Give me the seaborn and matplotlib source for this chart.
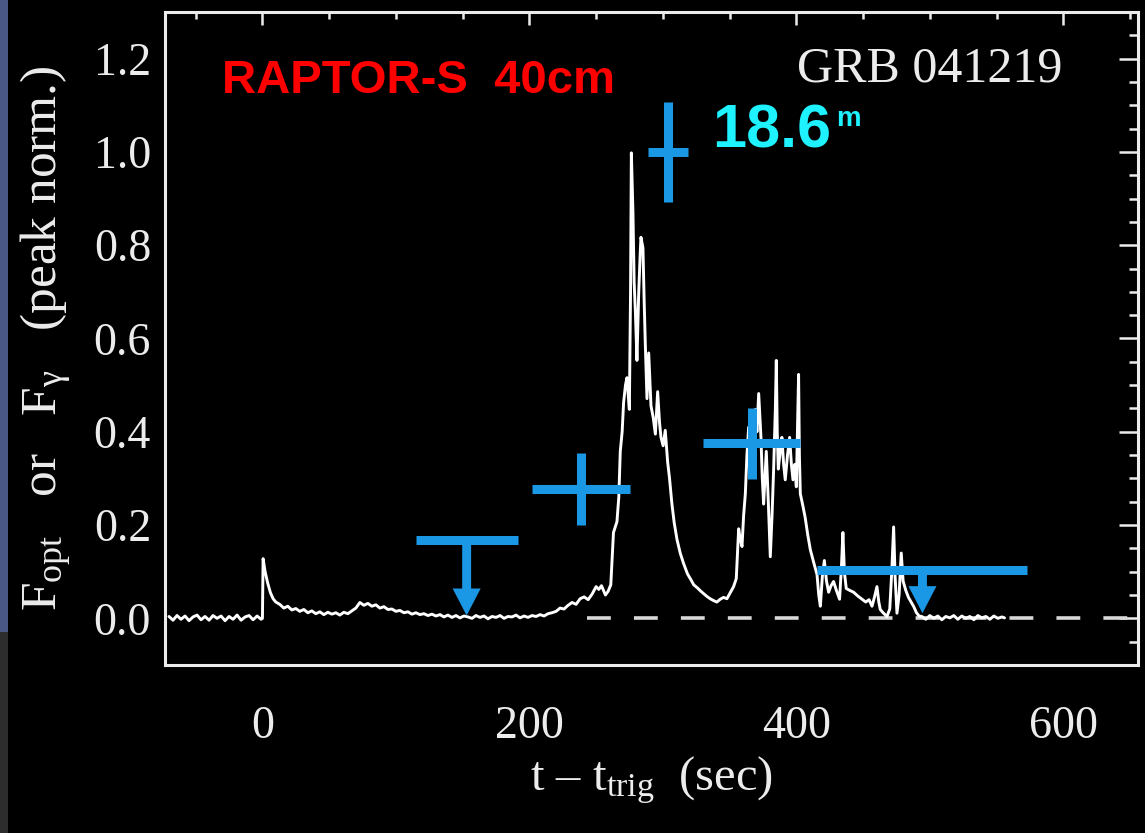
import numpy as np
import pandas as pd
import matplotlib
matplotlib.use("Agg")
import matplotlib.pyplot as plt
import seaborn as sns
from matplotlib.patches import Rectangle
from matplotlib.ticker import MultipleLocator, FormatStrFormatter

# gamma-ray light curve (t in sec, flux peak-normalised)
t_pre = [-70, -67, -64, -61, -58, -55, -52, -49, -46, -43, -40, -37,
         -34, -31, -28, -25, -22, -19, -16, -13, -10, -7, -4, -1]
f_pre = [0.004, -0.004, 0.006, -0.002, 0.005, -0.005, 0.003, 0.007, -0.003, 0.004, -0.004, 0.006,
         0.000, 0.005, -0.005, 0.004, -0.002, 0.007, -0.004, 0.003, 0.006, -0.003, 0.005, -0.002]

t_spike = [0, 0.5, 2, 4, 6, 8, 10, 13, 16, 19, 22, 25, 28, 31, 34, 37, 40, 43, 46,
           49, 52, 55, 58, 61, 64, 67, 70, 73, 76, 79, 82, 85, 88, 91, 94, 97, 100]
f_spike = [0.000, 0.128, 0.100, 0.075, 0.055, 0.042, 0.035, 0.030, 0.022, 0.026, 0.018, 0.021, 0.015, 0.019, 0.012, 0.016, 0.010, 0.014, 0.008,
           0.013, 0.009, 0.012, 0.007, 0.013, 0.010, 0.016, 0.022, 0.034, 0.028, 0.032, 0.026, 0.029, 0.022, 0.025, 0.019, 0.020, 0.015]

t_quiet = [103, 106, 109, 112, 115, 118, 121, 124, 127, 130, 133, 136, 139, 142, 145, 148, 151, 154, 157,
           160, 163, 166, 169, 172, 175, 178, 181, 184, 187, 190, 193, 196, 199, 202, 205, 208, 211, 214]
f_quiet = [0.017, 0.012, 0.014, 0.009, 0.012, 0.008, 0.010, 0.006, 0.009, 0.005, 0.008, 0.003, 0.007, 0.002, 0.006, 0.001, 0.005, 0.003, 0.000,
           0.006, 0.002, 0.005, -0.001, 0.004, 0.002, 0.006, 0.000, 0.004, 0.003, 0.007, 0.001, 0.005, 0.002, 0.006, 0.004, 0.008, 0.005, 0.010]

t_burst = [217, 220, 223, 226, 229, 232, 235, 238, 241, 244,
           247, 250, 252, 254, 257, 259, 261, 263, 265.6, 267,
           268.1, 269.5, 270.6, 272, 273.1, 274.9, 275.8, 276.4, 277.0, 277.6,
           278.5, 279.4, 280.6, 281.9, 283.0, 283.6, 285.1, 286.0, 286.9, 288.1,
           289.4, 291.1, 292.8, 294.4, 296.1, 297.5, 298.6, 300.2, 301.8, 303.6,
           305.0, 306.8, 308.5, 310.6, 313.0, 315.6, 318.5, 321.0, 323.1, 326.0,
           328.5, 330.6, 333.0, 335.5, 338.0, 340.5, 343.0, 345.5, 348.0, 350.5,
           353.0, 355.0, 356.8, 358.0, 359.3, 360.5, 361.8, 363.0, 364.3, 365.5,
           366.8, 368.0, 369.3, 370.5, 371.8, 373.5, 374.5, 375.5, 376.5, 377.5,
           379.0, 380.5, 381.8, 383.0, 384.3, 385.0, 385.7, 386.5, 388.0, 389.2,
           390.5, 391.7, 393.4, 395.0, 396.3, 397.5, 398.8, 400.0, 401.0, 401.7,
           402.3, 403.0, 405.0, 406.7, 408.5, 410.5, 413.0, 415.5, 416.8, 418.0,
           419.5, 421.0, 422.6, 424.2, 426.0, 427.9, 430.0, 432.4, 433.8, 434.9,
           436.0, 437.4, 440.0, 442.9, 446.0, 449.2, 452.0, 454.5, 456.7, 458.5,
           460.4, 461.8, 462.9, 465.0, 467.9, 470.0, 471.5, 472.9, 474.0, 475.4,
           477.0, 478.6, 480.0, 482.0, 484.0, 486.0, 488.0, 490.0, 492.0]
f_burst = [0.012, 0.015, 0.022, 0.020, 0.028, 0.034, 0.030, 0.042, 0.046, 0.040,
           0.052, 0.068, 0.062, 0.070, 0.050, 0.058, 0.072, 0.184, 0.207, 0.260,
           0.358, 0.400, 0.463, 0.500, 0.516, 0.448, 0.700, 0.998, 0.930, 0.870,
           0.720, 0.659, 0.553, 0.697, 0.780, 0.817, 0.794, 0.680, 0.584, 0.471,
           0.569, 0.456, 0.430, 0.395, 0.486, 0.420, 0.388, 0.370, 0.403, 0.335,
           0.300, 0.245, 0.205, 0.169, 0.140, 0.117, 0.095, 0.083, 0.072, 0.065,
           0.058, 0.053, 0.047, 0.042, 0.038, 0.035, 0.041, 0.045, 0.042, 0.055,
           0.068, 0.085, 0.192, 0.170, 0.154, 0.220, 0.267, 0.350, 0.410, 0.360,
           0.313, 0.400, 0.448, 0.400, 0.482, 0.388, 0.300, 0.245, 0.300, 0.358,
           0.250, 0.132, 0.220, 0.320, 0.450, 0.553, 0.400, 0.320, 0.360, 0.388,
           0.330, 0.297, 0.350, 0.388, 0.330, 0.297, 0.330, 0.282, 0.420, 0.523,
           0.350, 0.267, 0.240, 0.215, 0.180, 0.147, 0.120, 0.094, 0.050, 0.026,
           0.090, 0.124, 0.080, 0.056, 0.070, 0.079, 0.060, 0.041, 0.110, 0.184,
           0.100, 0.064, 0.060, 0.056, 0.048, 0.041, 0.035, 0.040, 0.026, 0.045,
           0.068, 0.035, 0.019, 0.012, 0.004, 0.020, 0.100, 0.196, 0.090, 0.011,
           0.050, 0.140, 0.080, 0.060, 0.045, 0.035, 0.025, 0.012, 0.005]

t_tail = [494, 497, 500, 503, 506, 509, 512, 515, 518, 521, 524,
          527, 530, 533, 536, 539, 542, 545, 548, 551, 554, 556]
f_tail = [0.004, -0.002, 0.006, 0.000, 0.005, -0.003, 0.004, 0.001, 0.006, -0.002, 0.005,
          0.000, 0.004, -0.003, 0.006, 0.001, 0.004, -0.002, 0.005, 0.000, 0.003, 0.001]

# RAPTOR-S optical detections
det_t = [238.5, 303.5, 366.5]
det_terr = [36.8, 15.0, 36.3]
det_f = [0.277, 1.0, 0.375]
det_ferr = [0.077, 0.107, 0.077]

# RAPTOR-S upper limits
ul_t = [153.0, 494.5]
ul_terr = [38.2, 78.7]
ul_f = [0.169, 0.103]
ul_tip = [0.006, 0.011]

blue = '#1a98e6'
fg = '#ececec'

sns.set_style("dark")
plt.rcParams['font.family'] = ['Liberation Serif', 'DejaVu Serif']
plt.rcParams['mathtext.fontset'] = 'custom'
plt.rcParams['mathtext.rm'] = 'Liberation Serif'
plt.rcParams['mathtext.it'] = 'Liberation Serif:italic'

fig = plt.figure(figsize=(11.45, 8.33), dpi=100, facecolor='black')
ax = fig.add_axes([0.1441, 0.2017, 0.8498, 0.7839])
ax.set_facecolor('black')

# slide edge on the left
fig.add_artist(Rectangle((0, 0.241), 0.007, 0.759, transform=fig.transFigure,
                         facecolor='#4a5886', edgecolor='none', zorder=0))
fig.add_artist(Rectangle((0, 0), 0.007, 0.241, transform=fig.transFigure,
                         facecolor='#2d2d2d', edgecolor='none', zorder=0))

lc = pd.DataFrame({'t': t_pre + t_spike + t_quiet + t_burst + t_tail,
                   'f': f_pre + f_spike + f_quiet + f_burst + f_tail})

# zero level, only visible right of the rise
ax.axhline(0, xmin=0.4337, color='#d8d8d8', lw=2.6, dashes=(6.6, 6.4), zorder=2)
sns.lineplot(data=lc, x='t', y='f', color='white', lw=2.1, estimator=None,
             sort=False, ax=ax, zorder=3)

ax.errorbar(det_t, det_f, xerr=det_terr, yerr=det_ferr, fmt='none',
            ecolor=blue, elinewidth=6.5, capsize=0, zorder=4)
ax.errorbar(ul_t, ul_f, xerr=ul_terr, fmt='none',
            ecolor=blue, elinewidth=6.5, capsize=0, zorder=4)
for t, f, tip in zip(ul_t, ul_f, ul_tip):
    ax.arrow(t, f, 0, tip - f, width=6.7, head_width=21, head_length=0.058,
             length_includes_head=True, facecolor=blue, edgecolor='none', zorder=4)

ax.set_xlim(-73, 656)
ax.set_ylim(-0.1, 1.3)
ax.xaxis.set_major_locator(MultipleLocator(200))
ax.xaxis.set_minor_locator(MultipleLocator(50))
ax.yaxis.set_major_locator(MultipleLocator(0.2))
ax.yaxis.set_minor_locator(MultipleLocator(0.05))
ax.yaxis.set_major_formatter(FormatStrFormatter('%.1f'))
ax.grid(False)

ax.tick_params(which='both', direction='in', top=True, right=True,
               color=fg, labelcolor=fg, width=1.8, labelsize=33)
ax.tick_params(axis='x', which='major', length=9.5, pad=29)
ax.tick_params(axis='x', which='minor', length=5)
ax.tick_params(axis='y', which='major', length=13.5, pad=10)
ax.tick_params(axis='y', which='minor', length=6.5)
for s in ax.spines.values():
    s.set_color(fg)
    s.set_linewidth(2.2)

ax.set_xlabel('t \u2013 t$_{\\rm trig}$  (sec)', fontsize=35, color=fg, labelpad=5)
ax.set_ylabel('F$_{\\rm opt}$   or   F$_{\\rm \u03b3}$   (peak norm.)', fontsize=37,
              color=fg, labelpad=14)

ax.text(0.922, 0.893, 'GRB 041219', transform=ax.transAxes, ha='right',
        va='baseline', fontsize=36, color=fg)
ax.text(0.0586, 0.876, 'RAPTOR-S  40cm', transform=ax.transAxes, ha='left',
        va='baseline', fontsize=34, color='#ff0000', fontweight='bold',
        family='Liberation Sans')
ax.text(0.562, 0.793, '18.6', transform=ax.transAxes, ha='left',
        va='baseline', fontsize=44, color='#1ff2ff', fontweight='bold',
        family='Liberation Sans')
ax.text(0.690, 0.825, 'm', transform=ax.transAxes, ha='left',
        va='baseline', fontsize=20, color='#1ff2ff', fontweight='bold',
        family='Liberation Sans')

fig.savefig('out.png', dpi=100, facecolor='black')
